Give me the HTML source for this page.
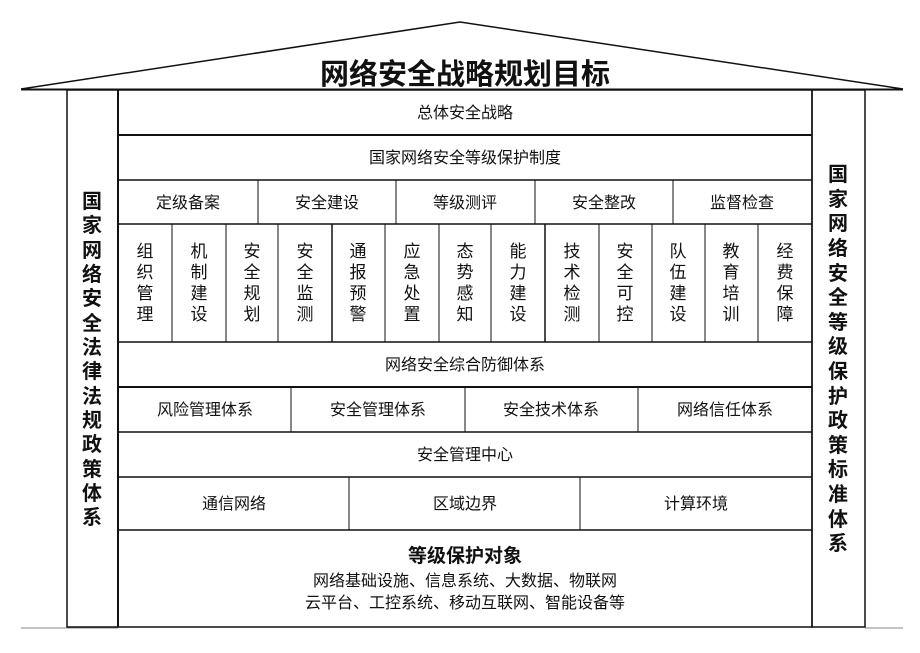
<!DOCTYPE html>
<html><head><meta charset="utf-8"><style>
html,body{margin:0;padding:0;background:#fff;}
svg{display:block;}
text{font-family:"Liberation Sans","Noto Sans CJK SC",sans-serif;fill:#111;}
</style></head><body>
<svg width="920" height="653" viewBox="0 0 920 653" xmlns="http://www.w3.org/2000/svg">
<g stroke="#111" fill="none">
<polyline points="21,89 460,22 903,89" stroke-width="1.5"/>
<line x1="21" y1="89.5" x2="903" y2="89.5" stroke-width="2"/>
<line x1="21" y1="628" x2="118" y2="628" stroke-width="1" stroke="#888"/>
<line x1="865" y1="628" x2="903" y2="628" stroke-width="1" stroke="#888"/>
<rect x="67" y="90" width="745" height="537" stroke-width="1.5"/>
<rect x="812" y="90" width="53" height="537" stroke-width="1.5"/>
<line x1="118" y1="90" x2="118" y2="627" stroke-width="2"/>
<line x1="118" y1="135" x2="812" y2="135" stroke-width="2"/>
<line x1="118" y1="180" x2="812" y2="180" stroke-width="1.5"/>
<line x1="118" y1="224" x2="812" y2="224" stroke-width="1.5"/>
<line x1="118" y1="342" x2="812" y2="342" stroke-width="1.5"/>
<line x1="118" y1="387" x2="812" y2="387" stroke-width="2"/>
<line x1="118" y1="432" x2="812" y2="432" stroke-width="1.5"/>
<line x1="118" y1="477" x2="812" y2="477" stroke-width="1.5"/>
<line x1="118" y1="530" x2="812" y2="530" stroke-width="1.5"/>
<line x1="258" y1="180" x2="258" y2="224"/>
<line x1="396" y1="180" x2="396" y2="224"/>
<line x1="535" y1="180" x2="535" y2="224"/>
<line x1="673" y1="180" x2="673" y2="224"/>
<line x1="172" y1="224" x2="172" y2="342"/>
<line x1="226" y1="224" x2="226" y2="342"/>
<line x1="278" y1="224" x2="278" y2="342"/>
<line x1="332" y1="224" x2="332" y2="342" stroke-width="1.5"/>
<line x1="385" y1="224" x2="385" y2="342"/>
<line x1="439" y1="224" x2="439" y2="342"/>
<line x1="491" y1="224" x2="491" y2="342"/>
<line x1="545" y1="224" x2="545" y2="342" stroke-width="1.5"/>
<line x1="599" y1="224" x2="599" y2="342"/>
<line x1="652" y1="224" x2="652" y2="342"/>
<line x1="705" y1="224" x2="705" y2="342"/>
<line x1="758" y1="224" x2="758" y2="342"/>
<line x1="291" y1="387" x2="291" y2="432"/>
<line x1="465" y1="387" x2="465" y2="432"/>
<line x1="638" y1="387" x2="638" y2="432"/>
<line x1="349" y1="477" x2="349" y2="530"/>
<line x1="580" y1="477" x2="580" y2="530"/>
</g>
<text x="465" y="84" font-size="29" font-weight="bold" text-anchor="middle">网络安全战略规划目标</text>
<g font-size="16" text-anchor="middle">
<text x="465" y="118">总体安全战略</text>
<text x="465" y="163">国家网络安全等级保护制度</text>
<text x="188" y="208">定级备案</text>
<text x="327" y="208">安全建设</text>
<text x="465" y="208">等级测评</text>
<text x="604" y="208">安全整改</text>
<text x="742" y="208">监督检查</text>
<text x="465" y="370">网络安全综合防御体系</text>
<text x="205" y="415">风险管理体系</text>
<text x="378" y="415">安全管理体系</text>
<text x="551" y="415">安全技术体系</text>
<text x="725" y="415">网络信任体系</text>
<text x="465" y="460">安全管理中心</text>
<text x="234" y="509">通信网络</text>
<text x="465" y="509">区域边界</text>
<text x="696" y="509">计算环境</text>
<text x="465" y="586">网络基础设施、信息系统、大数据、物联网</text>
<text x="465" y="608">云平台、工控系统、移动互联网、智能设备等</text>
</g>
<text x="465" y="562" font-size="19" font-weight="bold" text-anchor="middle">等级保护对象</text>
<g font-size="17" text-anchor="middle">
<text x="145" y="257">组</text><text x="145" y="278">织</text><text x="145" y="299">管</text><text x="145" y="320">理</text>
<text x="199" y="257">机</text><text x="199" y="278">制</text><text x="199" y="299">建</text><text x="199" y="320">设</text>
<text x="252" y="257">安</text><text x="252" y="278">全</text><text x="252" y="299">规</text><text x="252" y="320">划</text>
<text x="305" y="257">安</text><text x="305" y="278">全</text><text x="305" y="299">监</text><text x="305" y="320">测</text>
<text x="358" y="257">通</text><text x="358" y="278">报</text><text x="358" y="299">预</text><text x="358" y="320">警</text>
<text x="412" y="257">应</text><text x="412" y="278">急</text><text x="412" y="299">处</text><text x="412" y="320">置</text>
<text x="465" y="257">态</text><text x="465" y="278">势</text><text x="465" y="299">感</text><text x="465" y="320">知</text>
<text x="518" y="257">能</text><text x="518" y="278">力</text><text x="518" y="299">建</text><text x="518" y="320">设</text>
<text x="572" y="257">技</text><text x="572" y="278">术</text><text x="572" y="299">检</text><text x="572" y="320">测</text>
<text x="625" y="257">安</text><text x="625" y="278">全</text><text x="625" y="299">可</text><text x="625" y="320">控</text>
<text x="678" y="257">队</text><text x="678" y="278">伍</text><text x="678" y="299">建</text><text x="678" y="320">设</text>
<text x="731" y="257">教</text><text x="731" y="278">育</text><text x="731" y="299">培</text><text x="731" y="320">训</text>
<text x="785" y="257">经</text><text x="785" y="278">费</text><text x="785" y="299">保</text><text x="785" y="320">障</text>
</g>
<g font-size="20" font-weight="bold" text-anchor="middle">
<text x="92" y="208">国</text><text x="92" y="232">家</text><text x="92" y="257">网</text><text x="92" y="281">络</text><text x="92" y="305">安</text><text x="92" y="330">全</text><text x="92" y="354">法</text><text x="92" y="378">律</text><text x="92" y="403">法</text><text x="92" y="427">规</text><text x="92" y="451">政</text><text x="92" y="476">策</text><text x="92" y="500">体</text><text x="92" y="524">系</text>
<text x="838" y="181">国</text><text x="838" y="206">家</text><text x="838" y="230">网</text><text x="838" y="255">络</text><text x="838" y="280">安</text><text x="838" y="304">全</text><text x="838" y="329">等</text><text x="838" y="353">级</text><text x="838" y="378">保</text><text x="838" y="403">护</text><text x="838" y="427">政</text><text x="838" y="452">策</text><text x="838" y="476">标</text><text x="838" y="501">准</text><text x="838" y="526">体</text><text x="838" y="550">系</text>
</g>
</svg>
</body></html>
